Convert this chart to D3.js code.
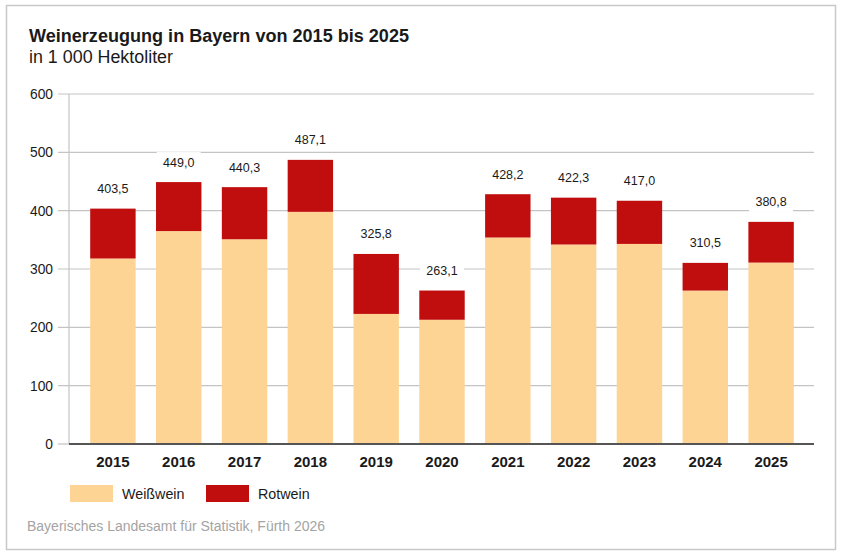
<!DOCTYPE html>
<html><head><meta charset="utf-8">
<script src="https://cdn.jsdelivr.net/npm/d3@7"></script>
<style>
html,body{margin:0;padding:0;background:#fff;}
svg{display:block;font-family:"Liberation Sans",Arial,sans-serif;}
</style></head>
<body><svg id="c" width="841" height="556"></svg>
<script>
const years = ["2015","2016","2017","2018","2019","2020","2021","2022","2023","2024","2025"];
const totals = [403.5,449.0,440.3,487.1,325.8,263.1,428.2,422.3,417.0,310.5,380.8];
const weiss = [318,365,351,398,223,213,354,342,343,263,311];
const yTicks = [0,100,200,300,400,500,600];
const seriesNames = ["Weißwein","Rotwein"];
const colors = ["#fdd494","#c00d0d"];

const rot = totals.map((t,i)=>+(t-weiss[i]).toFixed(1));
const rows = years.map((y,i)=>({year:y, "Weißwein":weiss[i], "Rotwein":rot[i], total:totals[i]}));

const svg = d3.select("#c");
svg.append("rect").attr("x",6.5).attr("y",5.5).attr("width",829).attr("height",544)
  .attr("fill","#fff").attr("stroke","#c8c8c8").attr("stroke-width",1.5);

svg.append("text").attr("x",29).attr("y",42).attr("font-size",18).attr("font-weight","bold")
  .attr("fill","#1a1a1a").attr("textLength",380).attr("lengthAdjust","spacingAndGlyphs")
  .text("Weinerzeugung in Bayern von 2015 bis 2025");
svg.append("text").attr("x",29).attr("y",63).attr("font-size",17.5)
  .attr("fill","#1a1a1a").attr("textLength",144).attr("lengthAdjust","spacingAndGlyphs")
  .text("in 1 000 Hektoliter");

const x = d3.scaleBand().domain(years).range([80,804]).paddingInner(0.31).paddingOuter(0.155);
const y = d3.scaleLinear().domain([0,600]).range([444,94]);

// gridlines
const grid = svg.append("g");
grid.selectAll("line").data(yTicks.filter(d=>d>0)).join("line")
  .attr("x1",58).attr("x2",814).attr("y1",d=>y(d)).attr("y2",d=>y(d))
  .attr("stroke","#c4c4c4").attr("stroke-width",1.2);
// y axis
const yAxis = d3.axisLeft(y).tickValues(yTicks).tickSize(0).tickPadding(0);
const gy = svg.append("g").attr("transform","translate(53,0)").call(yAxis);
gy.select(".domain").remove();
gy.selectAll("text").attr("font-size",13.8).attr("fill","#1a1a1a").attr("font-family","Liberation Sans, Arial, sans-serif");
svg.append("line").attr("x1",69).attr("x2",69).attr("y1",94).attr("y2",444)
  .attr("stroke","#c4c4c4").attr("stroke-width",1.2);
svg.append("line").attr("x1",58).attr("x2",69).attr("y1",y(0)).attr("y2",y(0))
  .attr("stroke","#c4c4c4").attr("stroke-width",1.2);

// stacked bars
const stack = d3.stack().keys(seriesNames)(rows);
svg.append("g").selectAll("g").data(stack).join("g")
  .attr("fill",(d,i)=>colors[i])
  .selectAll("rect").data(d=>d).join("rect")
  .attr("x",d=>x(d.data.year)).attr("width",x.bandwidth())
  .attr("y",d=>y(d[1])).attr("height",d=>y(d[0])-y(d[1]));

// zero line
svg.append("line").attr("x1",69).attr("x2",814).attr("y1",y(0)).attr("y2",y(0))
  .attr("stroke","#555").attr("stroke-width",2);

// value labels with white boxes
const fmt = v=>d3.format(".1f")(v).replace(".",",");
const lab = svg.append("g").selectAll("g").data(rows).join("g")
  .attr("transform",d=>`translate(${x(d.year)+x.bandwidth()/2},${y(d.total)-20})`);
lab.append("rect").attr("x",-22).attr("y",-10).attr("width",44).attr("height",20).attr("fill","#fff");
lab.append("text").attr("text-anchor","middle").attr("dy","0.36em").attr("font-size",12.5)
  .attr("fill","#1a1a1a").text(d=>fmt(d.total));

// x axis labels
const xAxis = d3.axisBottom(x).tickSize(0).tickPadding(0);
const gx = svg.append("g").attr("transform","translate(0,456)").call(xAxis);
gx.select(".domain").remove();
gx.selectAll("text").attr("font-size",15).attr("font-weight","bold").attr("fill","#1a1a1a")
  .attr("font-family","Liberation Sans, Arial, sans-serif");

// legend
const leg = svg.append("g").selectAll("g").data(seriesNames).join("g")
  .attr("transform",(d,i)=>`translate(${70+i*136},485)`);
leg.append("rect").attr("width",43).attr("height",17).attr("fill",(d,i)=>colors[i]);
leg.append("text").attr("x",52).attr("y",8.5).attr("dy","0.36em").attr("font-size",14.3)
  .attr("fill","#1a1a1a").text(d=>d);

svg.append("text").attr("x",27).attr("y",531).attr("font-size",14).attr("fill","#a4a4a4")
  .text("Bayerisches Landesamt für Statistik, Fürth 2026");
</script></body></html>
